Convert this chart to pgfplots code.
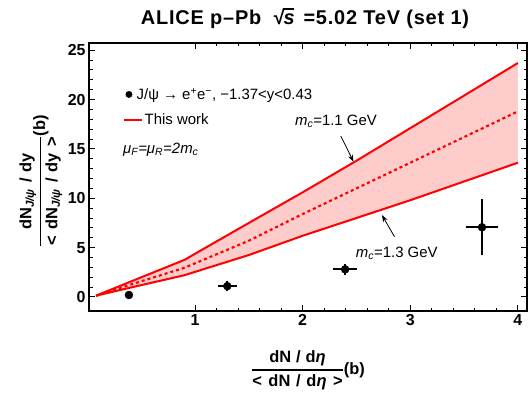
\documentclass[border=0pt]{standalone}
\usepackage{fontspec}
\setmainfont{Liberation Sans}
\newfontfamily\titlefont[LetterSpace=4]{Liberation Sans}
\usepackage{amsmath}
\usepackage{pgfplots}
\pgfplotsset{compat=1.18}
\usepgfplotslibrary{fillbetween}
\usetikzlibrary{arrows.meta,calc}
\definecolor{bandfill}{RGB}{255,204,204}
\definecolor{curvered}{RGB}{255,0,0}
% text-font root sign with a bar over s
\newcommand{\rootS}{√\kern-0.12em\rlap{\rule[\dimexpr\fontcharht\font`\√-0.08em\relax]{0.6em}{0.08em}}\kern0.06em\textit{s}\kern0.08em}

% theory band (m_c = 1.1 / central / 1.3 GeV)
\pgfplotstableread{
x    upper middle lower
0.08 0.13  0.13   0.13
0.4  1.55  1.25   0.95
0.9  3.75  2.95   2.2
1.5  7.5   5.7    4.25
2.0  10.6  8.4    6.2
2.5  13.8  11.0   8.0
3.0  17.1  13.6   9.8
3.5  20.4  16.2   11.7
4.0  23.7  18.8   13.6
}\theory

% ALICE data
\pgfplotstableread{
x     y     ex    ey
0.386 0.2   0     0
1.30  1.1   0.055 0.15
2.395 2.8   0.08  0.2
3.667 7.06  0.12  2.5
}\alice

\begin{document}
\begin{tikzpicture}
\begin{axis}[
    name=ax,
    width=438bp, height=268bp, scale only axis,
    xmin=0.015, xmax=4.085, ymin=-1.42, ymax=25.73,
    xtick={1,2,3,4}, ytick={0,5,10,15,20,25},
    minor x tick num=4, minor y tick num=4,
    tick align=inside,
    major tick length=6bp, minor tick length=3.5bp,
    every tick/.style={black, line width=1bp},
    axis line style={line width=1.2bp},
    /pgf/number format/assume math mode=true,
    ticklabel style={font=\fontsize{16}{17}\selectfont\bfseries},
    title={ALICE p–Pb \ \rootS\ =5.02 TeV (set 1)},
    title style={font=\titlefont\fontsize{20}{22}\selectfont\bfseries, inner sep=0pt,
        at={(0.5,1)}, anchor=base, yshift=13bp, xshift=-3bp},
    xlabel={$\genfrac{}{}{1.3pt}{0}{\text{dN\hspace{0.3em}/\hspace{0.3em}d{\itshape η}}}{\text{<\hspace{0.4em}dN\hspace{0.35em}/\hspace{0.35em}d{\itshape η}\hspace{0.4em}>}}$(b)},
    ylabel={$\genfrac{}{}{1.3pt}{0}{\text{dN\textsubscript{\itshape J/ψ}\hspace{0.35em}/\hspace{0.35em}dy}}{\text{<\hspace{0.4em}dN\textsubscript{\itshape J/ψ}\hspace{0.35em}/\hspace{0.35em}dy\hspace{0.4em}>}}$(b)},
    label style={font=\fontsize{16.5}{18}\selectfont\bfseries},
    xlabel style={at={(axis description cs:0.5,-0.22)}, anchor=center},
    ylabel style={at={(axis description cs:-0.11,0.485)}, anchor=center},
    legend style={at={(axis description cs:0.0776,0.84)}, anchor=north west,
        draw=none, fill=none, inner sep=0pt,
        font=\fontsize{15}{17}\selectfont, row sep=9bp},
    legend cell align=left,
]
\addplot[name path=up, draw=none, forget plot] table[x=x, y=upper]{\theory};
\addplot[name path=lo, draw=none, forget plot] table[x=x, y=lower]{\theory};
\addplot[bandfill, forget plot] fill between[of=up and lo];

\addplot[curvered, line width=2bp, forget plot] table[x=x, y=upper]{\theory};
\addplot[curvered, line width=2bp, forget plot] table[x=x, y=lower]{\theory};
\addplot[curvered, line width=2.2bp, dash pattern=on 3bp off 3bp, forget plot] table[x=x, y=middle]{\theory};

\addplot[black, only marks, mark=*, mark size=4bp, forget plot,
    error bars/.cd, x dir=both, x explicit, y dir=both, y explicit,
    error bar style={line width=1.8bp},
    error mark options={mark size=3.5bp, line width=1.8bp}]
    table[x=x, y=y, x error=ex, y error=ey]{\alice};

\addlegendimage{legend image code/.code={\fill[black] (5bp,0bp) circle (3.2bp); \path (18bp,0bp);}}
\addlegendentry{\hspace{-8bp}J/ψ → e\textsuperscript{+}e\textsuperscript{−}, −1.37<y<0.43}
\addlegendimage{legend image code/.code={\draw[curvered, line width=1.5bp] (0bp,0bp) -- (18bp,0bp);}}
\addlegendentry{This work}

\node[anchor=west, font=\fontsize{15}{17}\selectfont\itshape] at (axis cs:0.30,14.9)
    {μ\textsubscript{F}=μ\textsubscript{R}=2m\textsubscript{c}};

\node[font=\fontsize{15}{17}\selectfont] at (axis cs:2.31,17.8)
    {{\itshape m}\textsubscript{\itshape c}=1.1 GeV};
\draw[-{Stealth[length=7bp,width=5bp]}, line width=0.8bp] (axis cs:2.355,16.3) -- (axis cs:2.473,13.7);

\node[font=\fontsize{15}{17}\selectfont] at (axis cs:2.875,4.46)
    {{\itshape m}\textsubscript{\itshape c}=1.3 GeV};
\draw[-{Stealth[length=7bp,width=5bp]}, line width=0.8bp] (axis cs:2.854,6.1) -- (axis cs:2.737,8.3);
\end{axis}
\pgfresetboundingbox
\path ($(ax.south west)+(-89bp,-88bp)$) rectangle ($(ax.north east)+(1bp,43bp)$);
\end{tikzpicture}
\end{document}
